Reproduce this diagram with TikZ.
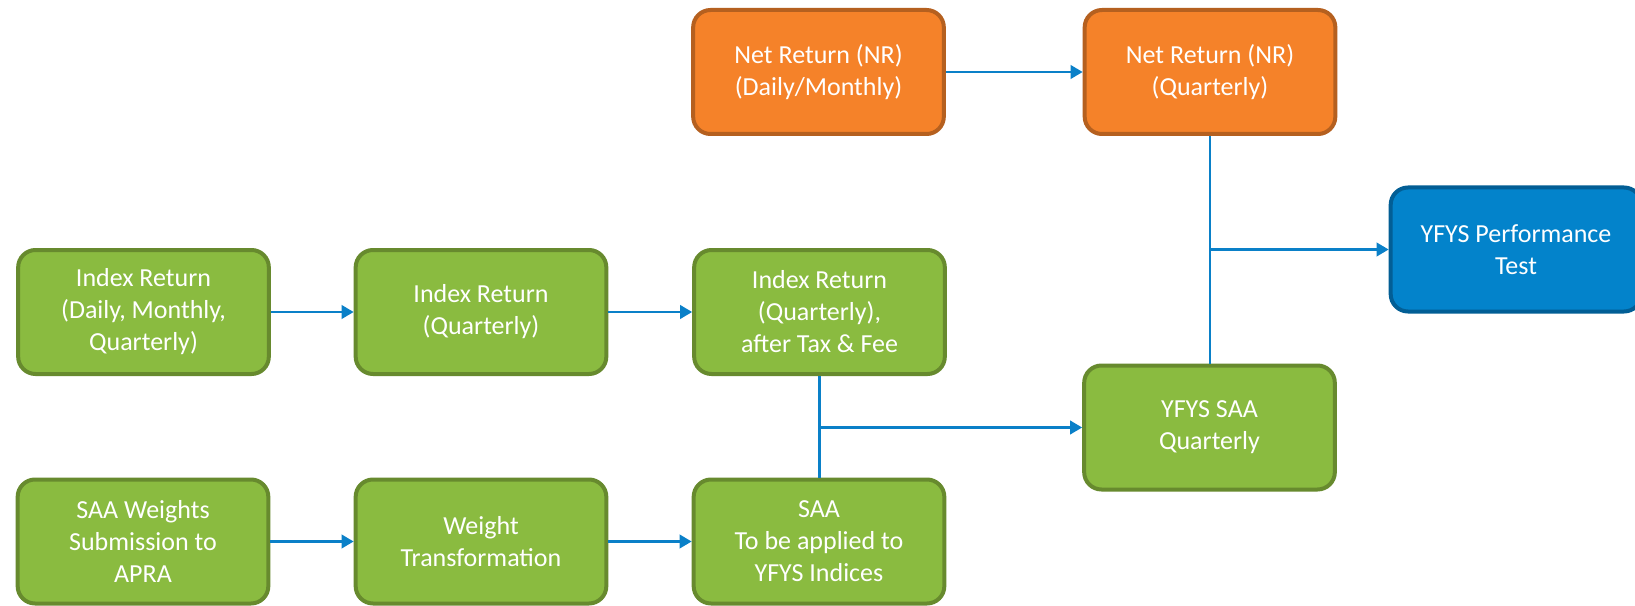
\documentclass[tikz,border=0pt]{standalone}
\usepackage{fontspec}
\setmainfont{Carlito}
\usetikzlibrary{arrows.meta}
\definecolor{gfill}{HTML}{8ABB40}
\definecolor{gline}{HTML}{678A2E}
\definecolor{ofill}{HTML}{F58229}
\definecolor{oline}{HTML}{B5601F}
\definecolor{bfill}{HTML}{0383CB}
\definecolor{bline}{HTML}{025E95}
\definecolor{conn}{HTML}{0A80C8}
\tikzset{
  boxbase/.style={rounded corners=13pt, line width=3pt, minimum width=188pt, minimum height=93pt,
    align=center, text=white, font=\fontsize{19.5}{24}\selectfont, inner sep=0pt},
  gbox/.style={boxbase, draw=gline, fill=gfill},
  obox/.style={boxbase, draw=oline, fill=ofill},
  bbox/.style={boxbase, draw=bline, fill=bfill},
  flow/.style={draw=conn, line width=2pt},
  flowarrow/.style={flow, -{Triangle[length=9pt,width=10pt]}}
}
\begin{document}
\begin{tikzpicture}[x=0.75pt,y=-0.75pt]
\useasboundingbox (0,0) rectangle (1635,606);
\fill[white] (0,0) rectangle (1635,606);
\node[obox] (nr1) at (818.5,72) {Net Return (NR)\\(Daily/Monthly)};
\node[obox] (nr2) at (1210,72) {Net Return (NR)\\(Quarterly)};
\node[bbox] (perf) at (1516,249.5) {YFYS Performance\\Test};
\node[gbox] (saaq) at (1209.5,427.5) {YFYS SAA\\Quarterly};
\node[gbox] (ir1) at (143.5,312) {Index Return\\(Daily, Monthly,\\Quarterly)};
\node[gbox] (ir2) at (481,312) {Index Return\\(Quarterly)};
\node[gbox] (ir3) at (819.5,312) {Index Return\\(Quarterly),\\after Tax \& Fee};
\node[gbox] (w1) at (143,541.5) {SAA Weights\\Submission to\\APRA};
\node[gbox] (w2) at (481,541.5) {Weight\\Transformation};
\node[gbox] (w3) at (819,541.5) {SAA\\To be applied to\\YFYS Indices};
\coordinate (j1) at (819.5,427.5);
\coordinate (j2) at (1210,249.5);
\draw[flowarrow] (nr1.east) -- (nr2.west);
\draw[flowarrow] (ir1.east) -- (ir2.west);
\draw[flowarrow] (ir2.east) -- (ir3.west);
\draw[flowarrow] (w1.east) -- (w2.west);
\draw[flowarrow] (w2.east) -- (w3.west);
\draw[flow] (ir3.south) -- (j1 |- w3.north);
\draw[flowarrow] (j1) -- (saaq.west);
\draw[flow] (nr2.south) -- (j2 |- saaq.north);
\draw[flowarrow] (j2) -- (perf.west);
\end{tikzpicture}
\end{document}
